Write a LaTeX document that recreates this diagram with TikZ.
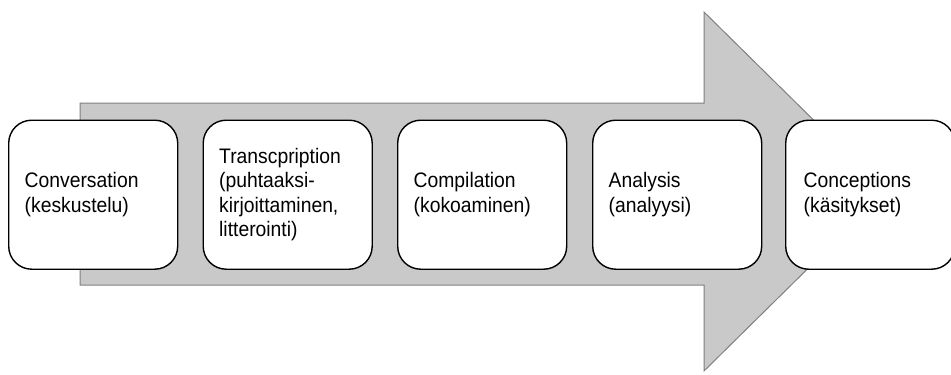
\documentclass[tikz,border=0pt]{standalone}
\usepackage{fontspec}
\setmainfont{Liberation Sans}[FakeStretch=0.92]
\tikzset{
  stage/.style={draw=black, line width=1.4pt, fill=white, rounded corners=23pt,
    rectangle, minimum width=169pt, minimum height=149pt, text width=137pt,
    inner xsep=16pt, align=left, anchor=north west,
    font=\fontsize{21}{24.5}\selectfont},
  flow/.style={fill=black!21, draw=black!50, line width=1pt}
}
\begin{document}
\begin{tikzpicture}[x=1pt, y=-1pt]
  \useasboundingbox (0,0) rectangle (951,375);
  % big process arrow in the background
  \draw[flow] (80,103) -- (704,103) -- (704,12) -- (886,191.5) -- (704,371)
    -- (704,285) -- (80,285) -- cycle;
  % stages
  \node[stage] (conv) at (8,119.5) {Conversation\\(keskustelu)};
  \node[stage] (trans) at (202.5,119.5) {Transcpription\\(puhtaaksi-\\kirjoittaminen,\\litterointi)};
  \node[stage] (comp) at (397,119.5) {Compilation\\(kokoaminen)};
  \node[stage] (anal) at (592,119.5) {Analysis\\(analyysi)};
  \node[stage, minimum width=165pt, text width=133pt, inner xsep=18pt] (conc) at (785,119.5) {Conceptions\\(käsitykset)};
\end{tikzpicture}
\end{document}
